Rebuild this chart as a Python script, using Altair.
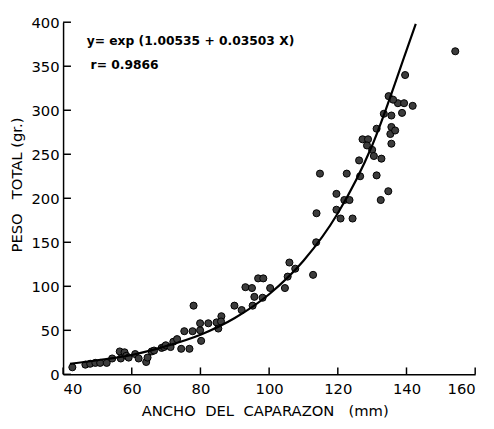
import altair as alt
import pandas as pd

# Data points: carapace width (mm) and total weight (g)
ancho = [42.7, 46.5, 47.9, 49.4, 50.8, 52.7, 54.3, 56.5, 56.8, 57.9, 58.4, 59.1,
         61.0, 62.0, 64.2, 64.6, 65.8, 66.5, 68.7, 69.4, 69.9, 71.3, 72.1, 73.2,
         74.4, 75.3, 76.8, 77.7, 78.0, 79.9, 79.9, 80.2, 82.3, 84.7, 85.2, 86.1,
         86.0, 89.9, 92.0, 93.1, 95.0, 95.2, 95.7, 96.8, 98.3, 98.1, 100.3, 104.6,
         105.4, 105.9, 107.6, 112.8, 113.7, 113.8, 114.8, 119.6, 119.6, 120.8,
         121.9, 123.4, 122.6, 124.3, 126.2, 126.5, 127.2, 128.8, 128.5, 130.0,
         130.5, 131.3, 131.3, 132.7, 132.5, 134.7, 133.4, 135.6, 135.6, 135.3,
         136.7, 135.6, 138.7, 137.5, 139.3, 141.8, 139.6, 134.8, 136.1, 154.2]
peso = [8, 11, 12, 13, 13, 13, 18, 26, 18, 25, 21, 19,
        23, 18, 14, 19, 26, 27, 30, 31, 33, 31, 37, 40,
        29, 49, 29, 49, 78, 50, 58, 38, 58, 59, 52, 66,
        60, 78, 73, 99, 98, 78, 88, 109, 109, 87, 98, 98,
        111, 127, 120, 113, 150, 183, 228, 205, 187, 177,
        198, 198, 228, 177, 243, 225, 267, 267, 260, 255,
        248, 279, 226, 245, 198, 208, 296, 294, 281, 273,
        277, 262, 297, 308, 308, 305, 340, 316, 312, 367]

# Fitted curve as drawn in the picture
curva_x = [42, 50, 60, 70, 80, 90, 100, 110, 120, 130, 140, 142.7]
curva_y = [12, 16, 22, 32, 45, 64, 91, 129, 183, 260, 368, 398]

x_ticks = [40, 60, 80, 100, 120, 140, 160]
y_ticks = [0, 50, 100, 150, 200, 250, 300, 350, 400]

NB = "\u00a0"
titulo_x = f"ANCHO{NB*2}DEL{NB*2}CAPARAZON{NB*3}(mm)"
titulo_y = f"PESO{NB*3}TOTAL{NB}(gr.)"
ecuacion = f"y={NB}exp{NB}(1.00535{NB}+{NB}0.03503{NB}X)"
coef_r = f"r={NB}0.9866"

W, H = 419, 358
FONT = "DejaVu Sans"

pts = pd.DataFrame({"ancho": ancho, "peso": peso})
cur = pd.DataFrame({"ancho": curva_x, "peso": curva_y})
xt = pd.DataFrame({"v": x_ticks})
yt = pd.DataFrame({"v": y_ticks})

xscale = alt.Scale(domain=[40, 160], nice=False, zero=False)
yscale = alt.Scale(domain=[0, 400], nice=False)

xaxis = alt.Axis(values=x_ticks, ticks=False, grid=False, labelPadding=8,
                 title=titulo_x, titleX=205, titleY=37,
                 titleBaseline="middle", titleAlign="center")
yaxis = alt.Axis(values=y_ticks, ticks=False, grid=False, labelPadding=4,
                 title=titulo_y, titleX=-47, titleY=165,
                 titleAngle=-90, titleBaseline="middle", titleAlign="center")

points = alt.Chart(pts).mark_point(
    filled=True, size=52, color="#3c3c3c", stroke="#000000", strokeWidth=1, opacity=1
).encode(
    x=alt.X("ancho:Q", scale=xscale, axis=xaxis),
    y=alt.Y("peso:Q", scale=yscale, axis=yaxis),
)

line = alt.Chart(cur).mark_line(
    color="#000000", strokeWidth=2.2, interpolate="monotone"
).encode(
    x=alt.X("ancho:Q", scale=xscale),
    y=alt.Y("peso:Q", scale=yscale),
)

ytick_marks = alt.Chart(yt).mark_rule(color="#000000", strokeWidth=1.5).encode(
    y=alt.Y("v:Q", scale=yscale),
    x=alt.value(0), x2=alt.value(8),
)
xtick_marks = alt.Chart(xt).mark_rule(color="#000000", strokeWidth=1.5).encode(
    x=alt.X("v:Q", scale=xscale),
    y=alt.value(H), y2=alt.value(H - 7),
)

txt1 = alt.Chart(pd.DataFrame({"t": [ecuacion]})).mark_text(
    align="left", baseline="middle", font=FONT, fontSize=12.5, fontWeight="bold",
    color="#000000"
).encode(x=alt.value(24), y=alt.value(19), text="t:N")
txt2 = alt.Chart(pd.DataFrame({"t": [coef_r]})).mark_text(
    align="left", baseline="middle", font=FONT, fontSize=12.5, fontWeight="bold",
    color="#000000"
).encode(x=alt.value(28), y=alt.value(44), text="t:N")

chart = alt.layer(points, line, ytick_marks, xtick_marks, txt1, txt2).properties(
    width=W, height=H,
    background="#ffffff",
    autosize=alt.AutoSizeParams(type="none"),
    padding={"left": 56, "top": 11, "right": 11, "bottom": 44},
).configure_view(stroke=None).configure_axis(
    domainColor="#000000", domainWidth=1.5,
    labelFont=FONT, labelFontSize=15, labelColor="#000000",
    titleFont=FONT, titleFontSize=15, titleFontWeight="normal", titleColor="#000000",
)

chart.save("out.html", embed_options={"renderer": "svg", "actions": False})
